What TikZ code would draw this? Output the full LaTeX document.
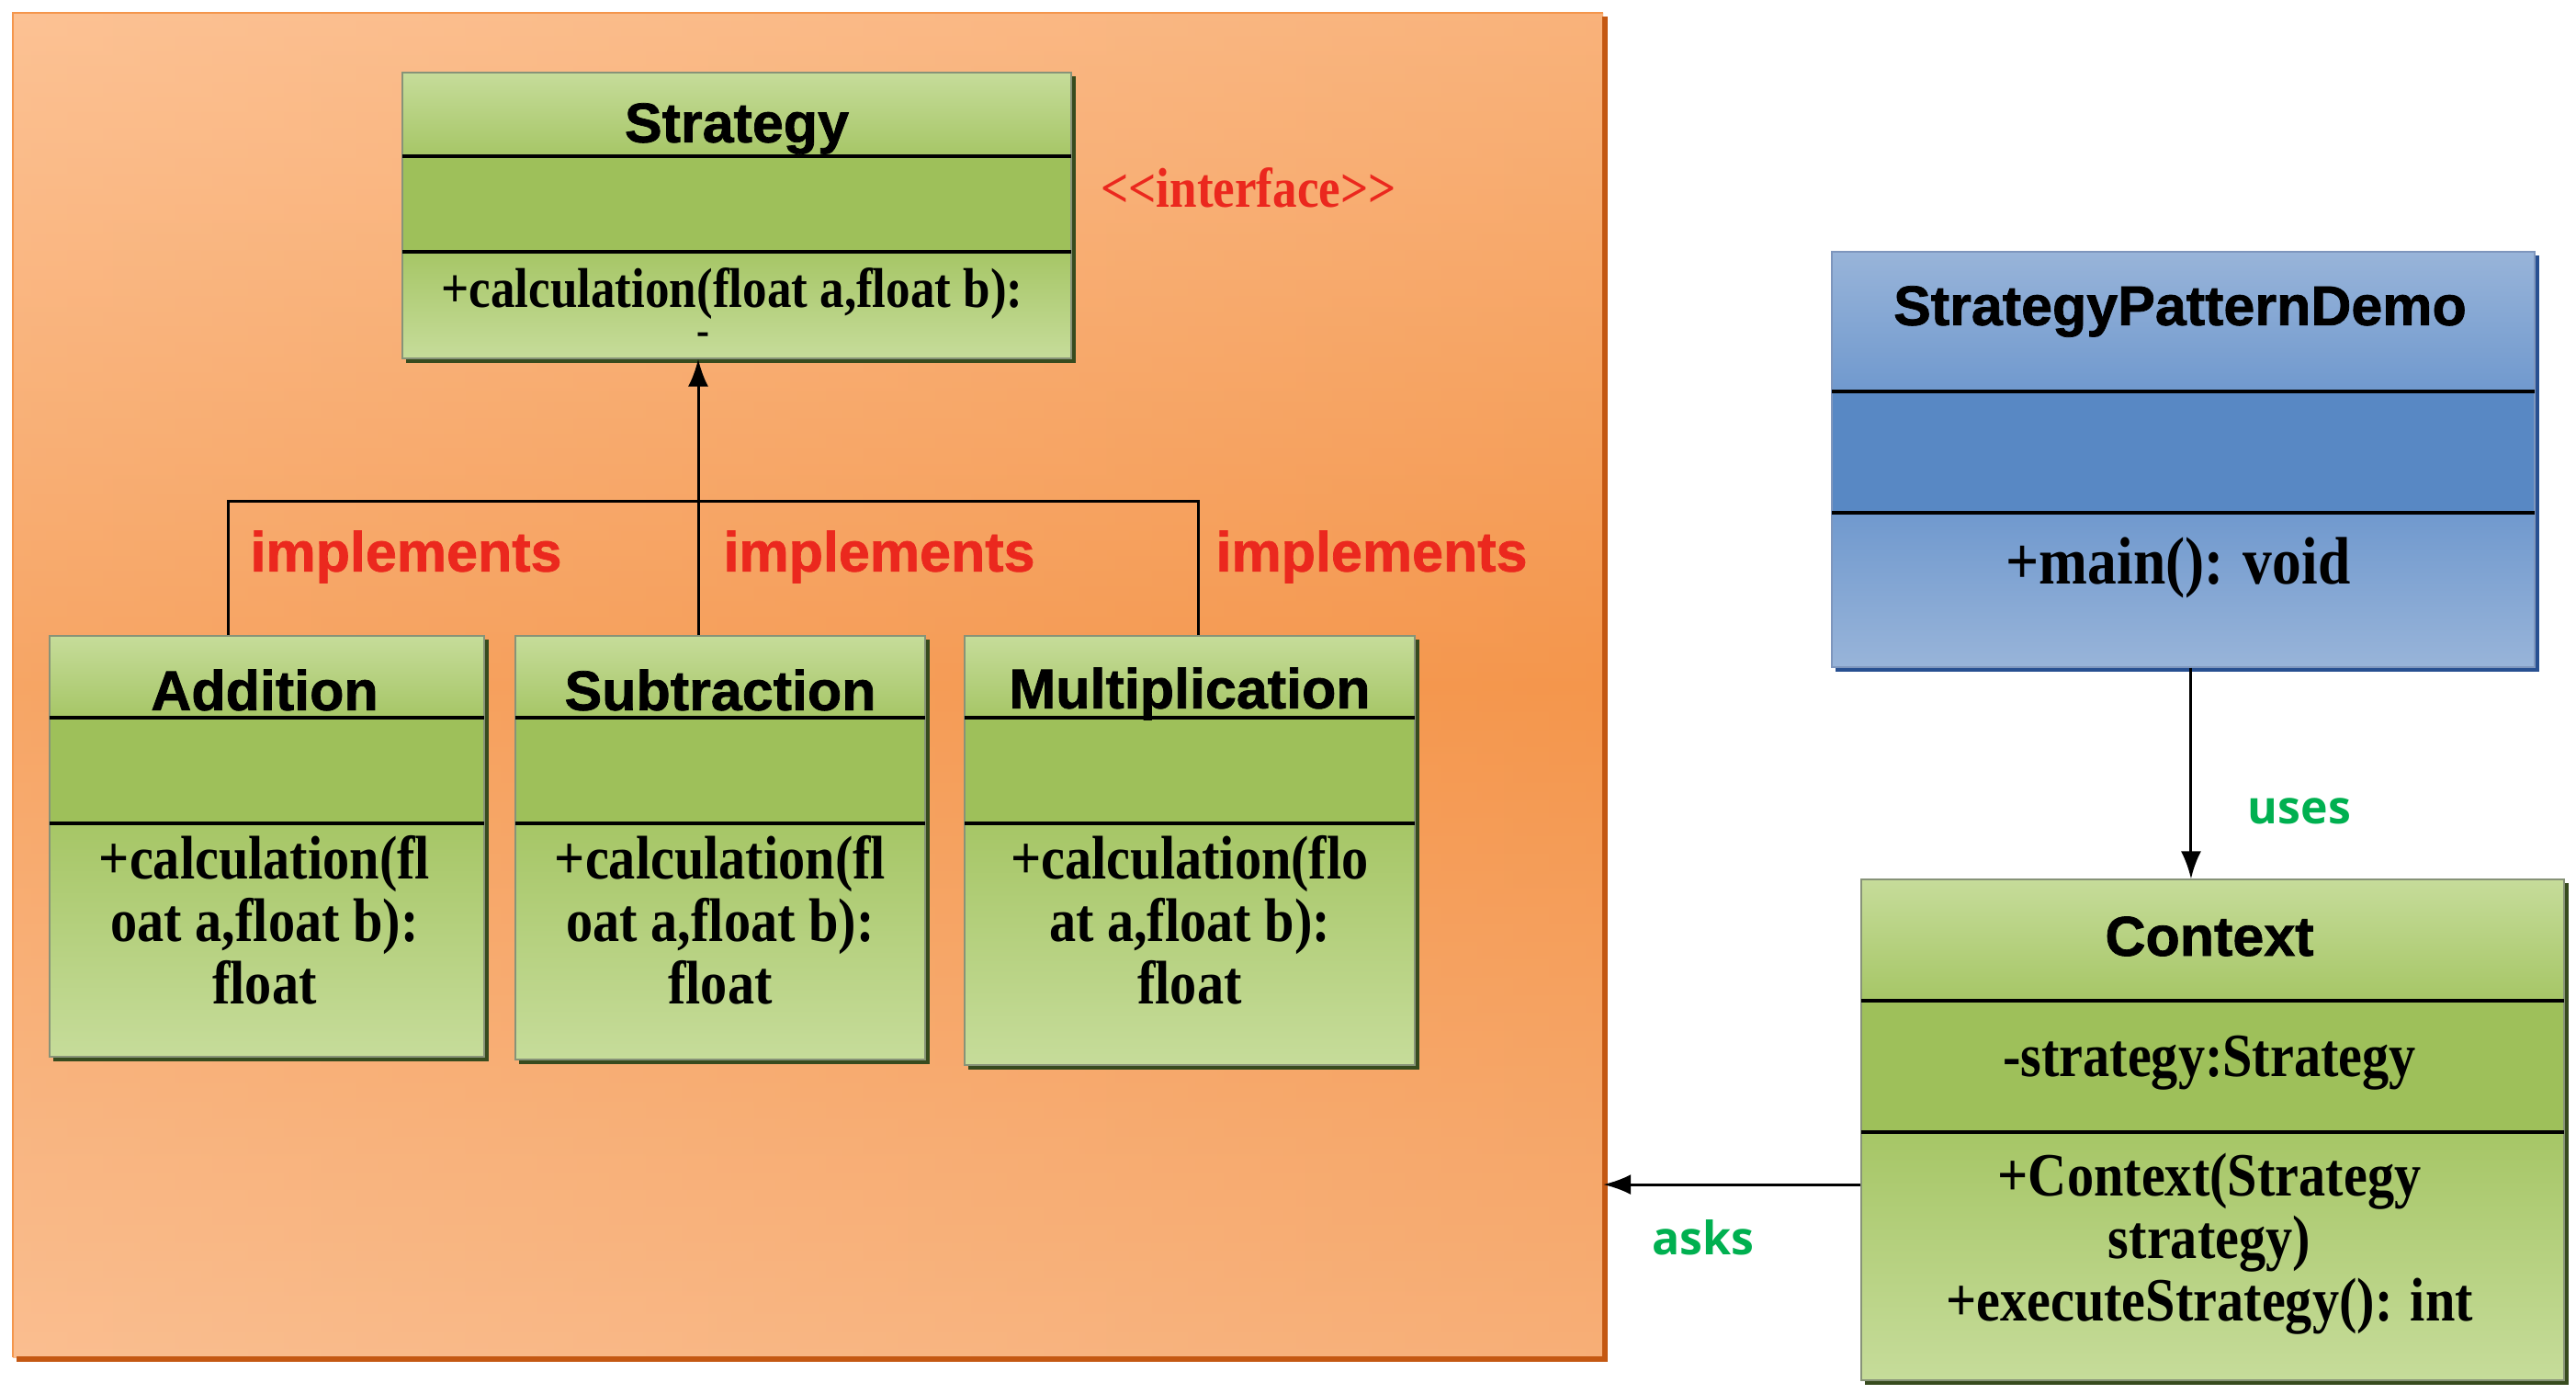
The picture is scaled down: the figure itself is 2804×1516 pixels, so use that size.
\documentclass[tikz,border=0pt]{standalone}
\usepackage{fontspec}
\setmainfont{Liberation Serif}
\newfontfamily\bodyfont{Liberation Serif}[FakeStretch=0.87]
\newfontfamily\hdfont{Liberation Sans}[BoldFeatures={FakeBold=1.2}]
\newfontfamily\lblfont{Open Sans}
\usetikzlibrary{arrows.meta,calc,fit}
\definecolor{gA}{RGB}{198,220,154}
\definecolor{gB}{RGB}{166,198,102}
\definecolor{gC}{RGB}{158,192,90}
\definecolor{gD}{RGB}{55,75,30}
\definecolor{bA}{RGB}{152,180,217}
\definecolor{bB}{RGB}{112,153,206}
\definecolor{bC}{RGB}{88,136,196}
\definecolor{bD}{RGB}{40,80,145}
\definecolor{oA}{RGB}{252,194,148}
\definecolor{oB}{RGB}{244,150,76}
\definecolor{oC}{RGB}{249,188,142}
\definecolor{oD}{RGB}{196,88,18}
\definecolor{redlbl}{RGB}{235,40,30}
\definecolor{grnlbl}{RGB}{0,176,80}
\tikzset{
  sepline/.style={line width=4, black},
  conn/.style={line width=3, black},
  arr/.style={conn, -{Latex[length=30pt,width=22pt]}},
  ttl/.style={font=\hdfont\bfseries\fontsize{61}{64}\selectfont, inner sep=0},
  body/.style={font=\bodyfont\bfseries\fontsize{67}{68}\selectfont, align=center, inner sep=0},
  impl/.style={font=\hdfont\bfseries\fontsize{61}{64}\selectfont, text=redlbl, inner sep=0},
  relname/.style={font=\lblfont\bfseries\fontsize{50}{54}\selectfont, text=grnlbl, inner sep=0}
}
\newcommand{\classbox}[8]{%
  \shade[top color=#8A, bottom color=#8B] (#2,#3) rectangle (#4,#6);
  \fill[#8C] (#2,#6) rectangle (#4,#7);
  \shade[top color=#8B, bottom color=#8A] (#2,#7) rectangle (#4,#5);
  \draw[line width=5,#8D] (#2+4,#5+2) -- (#4+2,#5+2) -- (#4+2,#3+4);
  \node[draw=#8D!60, line width=1.2, inner sep=0, fit={(#2,#3)(#4,#5)}] (#1) {};
  \draw[sepline] (#2,#6) -- (#4,#6);
  \draw[sepline] (#2,#7) -- (#4,#7);
}
\begin{document}
\begin{tikzpicture}[x=1pt,y=-1pt]
\fill[white] (0,0) rectangle (2804,1516);
\useasboundingbox (0,0) rectangle (2804,1516);
% orange frame
\node[fit={(14,14)(1745,1477)}, inner sep=0, top color=oA, bottom color=oC, middle color=oB] (frame) {};
\shade[left color=oA, right color=oB, opacity=0.35] (14,14) rectangle (1745,1477);
\draw[line width=2, oB] (14,1477) -- (14,14) -- (1745,14);
\draw[line width=6, oD] (18,1479) -- (1747,1479) -- (1747,18);
% classes
\classbox{strat}{438}{79}{1166}{390}{170}{274}{g}
\classbox{add}{54}{692}{527}{1150}{781}{896}{g}
\classbox{sub}{561}{692}{1007}{1153}{781}{896}{g}
\classbox{mul}{1050}{692}{1540}{1159}{781}{896}{g}
\classbox{spd}{1994}{274}{2759}{726}{426}{558}{b}
\classbox{ctx}{2026}{957}{2791}{1502}{1089}{1232}{g}
% texts
\node[ttl] (t1) at (802,140) {Strategy};
\node[body, font=\bodyfont\bfseries\fontsize{61}{68}\selectfont] (m1) at (797,320) {+calculation(float a,float b):};
\node[font=\bodyfont\bfseries\fontsize{48}{50}\selectfont, inner sep=0] (m1b) at (765,369) {-};
\node[font=\bodyfont\bfseries\fontsize{61}{64}\selectfont, text=redlbl, inner sep=0] (intf) at (1359,204) {<{}<interface>{}>};
\node[ttl] (t2) at (288,751) {Addition};
\node[body] (m2) at (288,1001) {+calculation(fl\\oat a,float b):\\float};
\node[ttl] (t3) at (784,751) {Subtraction};
\node[body] (m3) at (784,1001) {+calculation(fl\\oat a,float b):\\float};
\node[ttl] (t4) at (1295,755) {Multiplication};
\node[body] (m4) at (1295,1001) {+calculation(flo\\at a,float b):\\float};
\node[ttl] (t5) at (2373,339) {StrategyPatternDemo};
\node[font=\bodyfont\bfseries\fontsize{73}{76}\selectfont, inner sep=0] (m5) at (2371,618) {+main(): void};
\node[ttl] (t6) at (2405,1019) {Context};
\node[body] (a6) at (2405,1157) {-strategy:Strategy};
\node[body] (m6) at (2405,1354) {+Context(Strategy\\strategy)\\+executeStrategy(): int};
% implements connectors
\coordinate (j) at (760,545);
\draw[conn] ($(add.north west)!0.412!(add.north east)$) |- (j);
\draw[conn] ($(mul.north west)!0.52!(mul.north east)$) |- (j);
\draw[arr] (j |- sub.north) -- (j |- strat.south);
\node[impl] (i1) at (442,606) {implements};
\node[impl] (i2) at (957,606) {implements};
\node[impl] (i3) at (1493,606) {implements};
% uses
\draw[arr] ($(spd.south west)!0.511!(spd.south east)$) coordinate (u0) -- (u0 |- ctx.north);
\node[relname] (uses) at (2503,883) {uses};
% asks
\draw[arr] ($(ctx.north west)!0.609!(ctx.south west)$) coordinate (a0) -- (a0 -| frame.east);
\node[relname] (asks) at (1854,1347) {asks};
\end{tikzpicture}
\end{document}
